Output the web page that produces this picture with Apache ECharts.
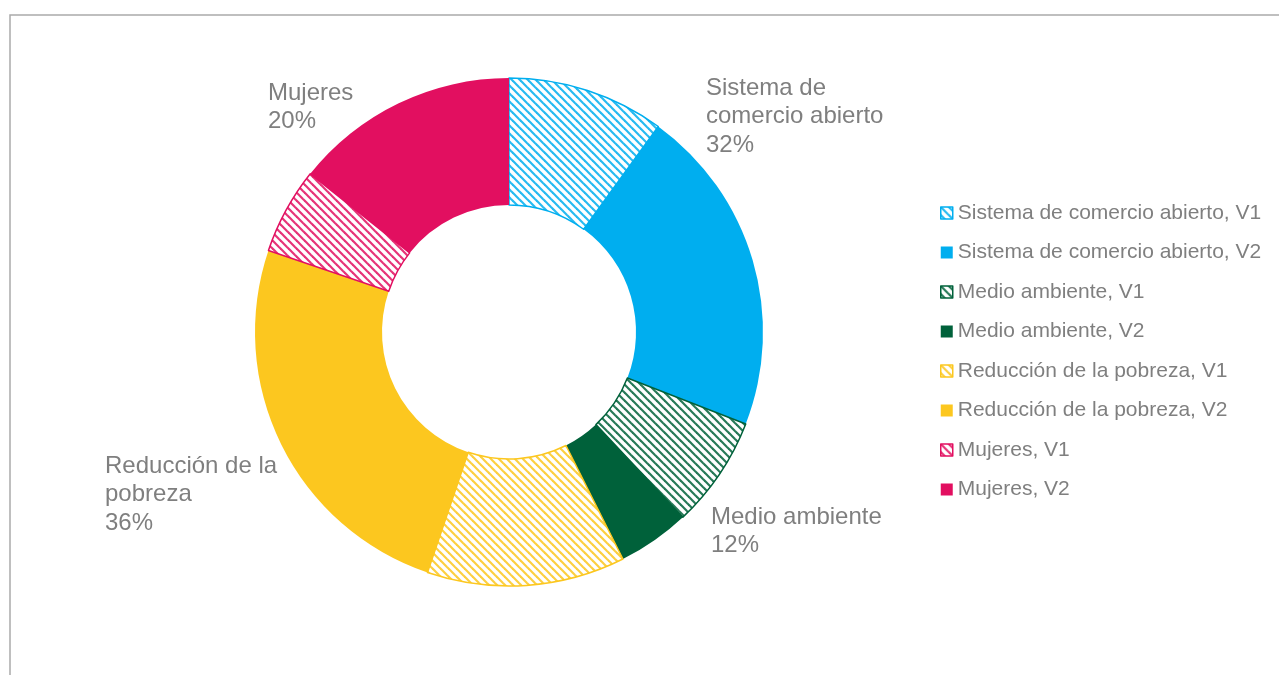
<!DOCTYPE html>
<html>
<head>
<meta charset="utf-8">
<script src="https://cdn.jsdelivr.net/npm/echarts@6/dist/echarts.min.js"></script>
<style>
html,body{margin:0;padding:0;background:#fff;}
#chart{width:1279px;height:675px;}
</style>
</head>
<body>
<div id="chart"></div>
<script>
// ---- data ----
const sliceNames = [
  'Sistema de comercio abierto, V1', 'Sistema de comercio abierto, V2',
  'Medio ambiente, V1', 'Medio ambiente, V2',
  'Reducción de la pobreza, V1', 'Reducción de la pobreza, V2',
  'Mujeres, V1', 'Mujeres, V2'
];
const sliceValues = [10.0, 20.9, 7.1, 4.6, 12.6, 25.0, 5.5, 14.3];
const groupLabels = ['Sistema de\ncomercio abierto', 'Medio ambiente', 'Reducción de la\npobreza', 'Mujeres'];
const groupPercents = [32, 12, 36, 20];

// ---- styles ----
const groupColors = ['#00AEEF', '#00613A', '#FCC71F', '#E20F60'];
const labelCarrier = [1, 3, 5, 7];           // slice index that carries each group's label
const labelPos = { 1: [706, 74], 3: [711, 503], 5: [105, 452], 7: [268, 79] };
const textGray = '#7f7f7f';
const fontFam = '"Liberation Sans", Arial, sans-serif';

function hatch(color) {
  const s = 8;
  const c = document.createElement('canvas');
  c.width = s; c.height = s;
  const ctx = c.getContext('2d');
  ctx.fillStyle = '#fff';
  ctx.fillRect(0, 0, s, s);
  ctx.strokeStyle = color;
  ctx.globalAlpha = 0.85;
  ctx.lineWidth = 2.2;
  for (let k = -1; k <= 1; k++) {
    ctx.beginPath();
    ctx.moveTo(k * s - 2, -2);
    ctx.lineTo(k * s + s + 2, s + 2);
    ctx.stroke();
  }
  return { image: c, repeat: 'repeat' };
}

const pieData = sliceNames.map((n, i) => {
  const g = Math.floor(i / 2);
  const col = groupColors[g];
  const hatched = i % 2 === 0;
  const gi = labelCarrier.indexOf(i);
  return {
    name: n,
    value: sliceValues[i],
    itemStyle: hatched
      ? { color: hatch(col), borderColor: col, borderWidth: 1.5 }
      : { color: col, borderWidth: 0 },
    label: gi >= 0
      ? { show: true, formatter: groupLabels[gi] + '\n' + groupPercents[gi] + '%' }
      : { show: false }
  };
});

const legendData = sliceNames.map((n, i) => {
  const col = groupColors[Math.floor(i / 2)];
  return i % 2 === 0
    ? { name: n, itemStyle: { color: hatch(col), borderColor: col, borderWidth: 1.5 } }
    : { name: n, itemStyle: { color: col, borderWidth: 0 } };
});

const chart = echarts.init(document.getElementById('chart'), null, { renderer: 'canvas' });
chart.setOption({
  animation: false,
  backgroundColor: '#fff',
  graphic: [{
    type: 'rect',
    shape: { x: 10, y: 15, width: 1400, height: 800 },
    style: { fill: 'none', stroke: '#ababab', lineWidth: 1.5 },
    silent: true
  }],
  legend: {
    orient: 'vertical',
    left: 935,
    top: 196,
    itemWidth: 12,
    itemHeight: 12,
    itemGap: 15.5,
    icon: 'rect',
    data: legendData,
    textStyle: { color: textGray, fontSize: 21, lineHeight: 24, fontFamily: fontFam },
    selectedMode: false
  },
  series: [{
    type: 'pie',
    center: [509, 332],
    radius: [127, 254],
    startAngle: 90,
    clockwise: true,
    avoidLabelOverlap: false,
    emphasis: { disabled: true },
    label: {
      position: 'outside',
      color: textGray,
      fontSize: 24,
      lineHeight: 28.5,
      fontFamily: fontFam,
      align: 'left'
    },
    labelLine: { show: false },
    labelLayout: function (p) {
      const pos = labelPos[p.dataIndex];
      if (!pos) return {};
      return { x: pos[0], y: pos[1], align: 'left', verticalAlign: 'top' };
    },
    data: pieData
  }]
});
</script>
</body>
</html>
